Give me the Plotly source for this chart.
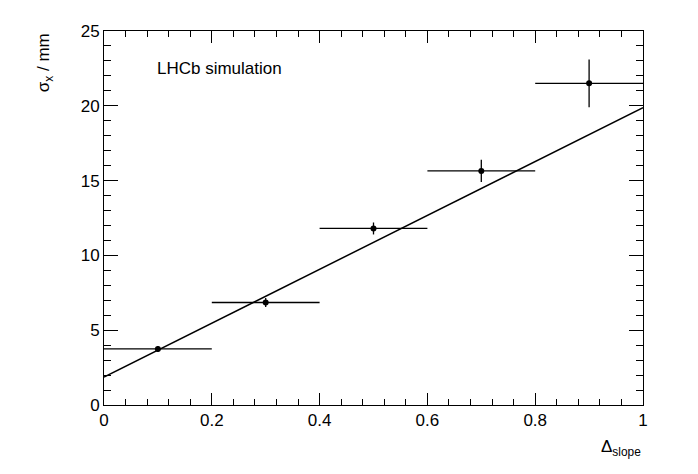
import plotly.graph_objects as go

x_vals = [0.1, 0.3, 0.5, 0.7, 0.9]
x_err = [0.1, 0.1, 0.1, 0.1, 0.1]
y_vals = [3.75, 6.85, 11.8, 15.65, 21.5]
y_err = [0.2, 0.3, 0.4, 0.75, 1.6]
x_ticks = [0, 0.2, 0.4, 0.6, 0.8, 1]
x_tick_labels = ["0", "0.2", "0.4", "0.6", "0.8", "1"]
fit_intercept = 1.87
fit_slope = 18.0
fit_x = [0.0, 1.0]
fit_y = [fit_intercept + fit_slope * v for v in fit_x]

font = "Liberation Sans, Arial, sans-serif"
fig = go.Figure()
fig.add_trace(go.Scatter(x=fit_x, y=fit_y, mode="lines",
                         line=dict(color="black", width=1.5), showlegend=False))
fig.add_trace(go.Scatter(x=x_vals, y=y_vals, mode="markers",
                         marker=dict(color="black", size=6),
                         error_x=dict(type="data", array=x_err, color="black", thickness=1.3, width=0),
                         error_y=dict(type="data", array=y_err, color="black", thickness=1.3, width=0),
                         showlegend=False))
axis_common = dict(ticks="inside", mirror="allticks", showline=True, linecolor="black",
                   linewidth=1, showgrid=False, zeroline=False, tickcolor="black",
                   automargin=False,
                   tickfont=dict(family=font, size=17, color="black"))
fig.update_xaxes(range=[0, 1], tickvals=x_ticks, ticktext=x_tick_labels, ticklen=12,
                 minor=dict(ticks="inside", dtick=0.04, ticklen=6, tickcolor="black"),
                 **axis_common)
fig.update_yaxes(range=[0, 25], dtick=5, ticklen=14,
                 minor=dict(ticks="inside", dtick=1, ticklen=7, tickcolor="black"),
                 **axis_common)
fig.update_layout(width=698, height=474, plot_bgcolor="white", paper_bgcolor="white",
                  margin=dict(l=96, r=63, t=23, b=77),
                  annotations=[
                      dict(text="LHCb simulation", x=0.095, y=0.9, xref="paper", yref="paper",
                           xanchor="left", yanchor="middle", showarrow=False,
                           font=dict(family=font, size=17, color="black")),
                      dict(text="Δ<sub>slope</sub>", x=1, y=-0.08, xref="paper", yref="paper",
                           xanchor="right", yanchor="top", showarrow=False,
                           font=dict(family=font, size=17, color="black")),
                      dict(text="σ<sub>x</sub> / mm", x=-0.11, y=1, xref="paper", yref="paper",
                           xanchor="center", yanchor="top", textangle=-90, showarrow=False,
                           font=dict(family=font, size=17, color="black")),
                  ])
fig.write_html("out.html")
